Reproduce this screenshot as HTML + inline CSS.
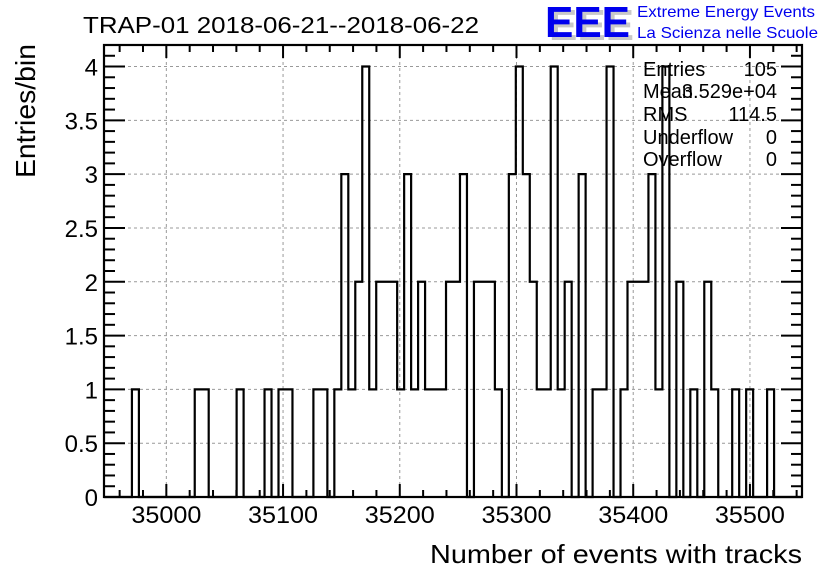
<!DOCTYPE html>
<html><head><meta charset="utf-8"><style>
html,body{margin:0;padding:0;background:#fff;}
svg{display:block;font-family:"Liberation Sans",Arial,sans-serif;}
</style></head><body>
<svg id="chart" width="836" height="572" viewBox="0 0 836 572" xmlns="http://www.w3.org/2000/svg">
<rect width="836" height="572" fill="#fff"/>
<g id="grid"></g>
<g id="hist"></g>
<g id="axes"></g>
<text x="83" y="33" font-size="23" textLength="396" lengthAdjust="spacingAndGlyphs">TRAP-01 2018-06-21--2018-06-22</text>
<text transform="translate(35,178) rotate(-90)" font-size="28" textLength="134" lengthAdjust="spacingAndGlyphs">Entries/bin</text>
<text x="802" y="563" font-size="26" text-anchor="end" textLength="372" lengthAdjust="spacingAndGlyphs">Number of events with tracks</text>
<g>
  <text x="549" y="40" font-size="44" font-weight="bold" fill="#c8c8c8" textLength="85" lengthAdjust="spacingAndGlyphs">EEE</text>
  <text x="545" y="37" font-size="44" font-weight="bold" fill="#0000ee" textLength="85" lengthAdjust="spacingAndGlyphs">EEE</text>
  <text x="637" y="17" font-size="16" fill="#0000ee" textLength="178" lengthAdjust="spacingAndGlyphs">Extreme Energy Events</text>
  <text x="637" y="38" font-size="16" fill="#0000ee" textLength="181" lengthAdjust="spacingAndGlyphs">La Scienza nelle Scuole</text>
</g>
<g font-size="20">
  <text x="643" y="76">Entries</text><text x="777" y="76" text-anchor="end">105</text>
  <text x="643" y="98">Mean</text><text x="777" y="98" text-anchor="end">3.529e+04</text>
  <text x="643" y="121">RMS</text><text x="777" y="121" text-anchor="end">114.5</text>
  <text x="643" y="144">Underflow</text><text x="777" y="144" text-anchor="end">0</text>
  <text x="643" y="166">Overflow</text><text x="777" y="166" text-anchor="end">0</text>
</g>
</svg>
<script>
const binLow = 34946.6;
const binWidth = 5.98;
const counts = [0,0,0,0,1,0,0,0,0,0, 0,0,0,1,1,0,0,0,0,1, 0,0,0,1,0,1,1,0,0,0,
  1,1,0,1,3,1,2,4,1,2, 2,2,1,3,1,2,1,1,1,2, 2,3,0,2,2,2,1,0,3,4,
  3,2,1,1,4,1,2,0,3,0, 1,1,4,0,1,2,2,2,3,1, 4,0,2,0,1,0,2,1,0,0,
  1,0,1,0,0,1,0,0,0,0];
const xTicks = [35000,35100,35200,35300,35400,35500];
const xTickLabels = ["35000","35100","35200","35300","35400","35500"];
const yTicks = [0,0.5,1,1.5,2,2.5,3,3.5,4];
const yTickLabels = ["0","0.5","1","1.5","2","2.5","3","3.5","4"];

const X0=104, X1=802, Y0=497, Y1=45;
const xMin=binLow, xMax=binLow+binWidth*counts.length, yMin=0, yMax=4.2;
const sx=v=>X0+(v-xMin)*(X1-X0)/(xMax-xMin);
const sy=v=>Y0-(v-yMin)*(Y0-Y1)/(yMax-yMin);
const NS="http://www.w3.org/2000/svg";
function mk(tag,attrs,parent){const e=document.createElementNS(NS,tag);for(const k in attrs)e.setAttribute(k,attrs[k]);parent.appendChild(e);return e;}
const grid=document.getElementById('grid'),hist=document.getElementById('hist'),axes=document.getElementById('axes');

xTicks.forEach(t=>{const l=mk('line',{x1:sx(t),x2:sx(t),y1:Y0,y2:Y1,stroke:'#999','stroke-dasharray':'3,3','stroke-width':1},grid);

});
yTicks.forEach(t=>{if(t===0)return;const l=mk('line',{x1:X0,x2:X1,y1:sy(t),y2:sy(t),stroke:'#999','stroke-dasharray':'3,3','stroke-width':1},grid);

});

let d='M'+sx(xMin)+','+sy(0);
counts.forEach((c,i)=>{const a=sx(binLow+i*binWidth),b=sx(binLow+(i+1)*binWidth);d+=' L'+a+','+sy(c)+' L'+b+','+sy(c);});
d+=' L'+sx(xMax)+','+sy(0);
const p=mk('path',{d:d,fill:'none',stroke:'#000','stroke-width':2.2},hist);



const fr=mk('rect',{x:X0,y:Y1,width:X1-X0,height:Y0-Y1,fill:'none',stroke:'#000','stroke-width':2.2},axes);


for(let v=34960;v<=35540;v+=20){const maj=(v%100===0);const L=maj?13:7;const x=sx(v);
 mk('line',{x1:x,x2:x,y1:Y0,y2:Y0-L,stroke:'#000','stroke-width':2},axes);
 mk('line',{x1:x,x2:x,y1:Y1,y2:Y1+L,stroke:'#000','stroke-width':2},axes);}
xTicks.forEach((t,i)=>{const tx=mk('text',{x:sx(t),y:523,'font-size':24,'text-anchor':'middle',textLength:70,lengthAdjust:'spacingAndGlyphs'},axes);tx.textContent=xTickLabels[i];

});
for(let k=0;k<=42;k++){const v=k*0.1;const maj=(k%5===0);const L=maj?21:11;const y=sy(v);
 mk('line',{x1:X0,x2:X0+L,y1:y,y2:y,stroke:'#000','stroke-width':2},axes);
 mk('line',{x1:X1,x2:X1-L,y1:y,y2:y,stroke:'#000','stroke-width':2},axes);}
yTicks.forEach((t,i)=>{const tx=mk('text',{x:98,y:sy(t)+9,'font-size':24,'text-anchor':'end'},axes);tx.textContent=yTickLabels[i];

});
</script>
</body></html>
